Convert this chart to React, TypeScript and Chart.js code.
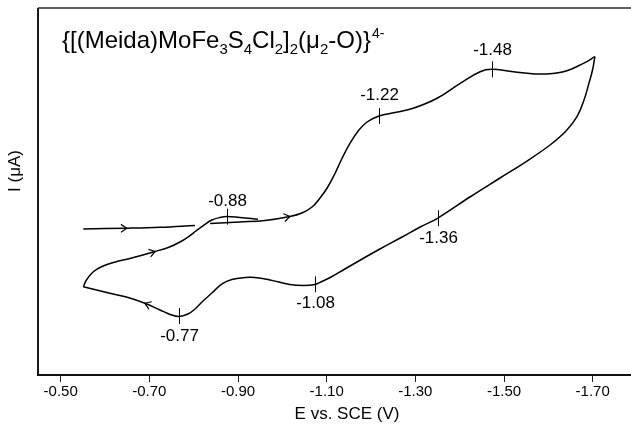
import React, { useEffect, useRef } from "react";
import { Chart, registerables } from "chart.js";

Chart.register(...registerables);

// ---- axis ----
const tickValues = [-0.5, -0.7, -0.9, -1.1, -1.3, -1.5, -1.7];
const xMin = -1.7864;
const xMax = -0.4488;
const yMin = 0;
const yMax = 100;

// ---- initial sweep (start at -0.55 V) ----
const startE = [-0.551, -0.649, -0.724, -0.803];
const startI = [39.8, 40.0, 40.25, 40.74];

// ---- forward (cathodic) scan to -1.70 V ----
const forwardE = [
  -0.837, -0.904, -0.961, -1.017, -1.044, -1.067, -1.085, -1.101, -1.117, -1.135,
  -1.153, -1.171, -1.191, -1.218, -1.254, -1.295, -1.349, -1.401, -1.446, -1.472,
  -1.521, -1.581, -1.634, -1.679, -1.705,
];
const forwardI = [
  41.28, 41.69, 42.1, 43.19, 44.14, 45.78, 48.23, 50.95, 54.5, 59.13,
  63.22, 66.49, 68.94, 70.57, 71.53, 72.67, 75.4, 79.48, 82.64, 83.3,
  82.64, 82.0, 82.64, 84.9, 86.73,
];

// ---- return (anodic) scan back to -0.55 V ----
const returnE = [
  -1.705, -1.6996, -1.6917, -1.6804, -1.6646, -1.6398, -1.6037, -1.5518, -1.4909,
  -1.423, -1.35, -1.311, -1.27, -1.22, -1.18, -1.141, -1.108, -1.089, -1.074,
  -1.047, -1.017, -0.972, -0.938, -0.916, -0.886, -0.864, -0.841, -0.821, -0.803,
  -0.787, -0.767, -0.747, -0.724, -0.69, -0.652, -0.611, -0.551,
];
const returnI = [
  86.73, 83.11, 79.56, 74.93, 70.38, 66.49, 62.67, 58.31, 53.68,
  48.5, 42.7, 40.33, 37.6, 34.33, 31.61, 28.88, 26.57, 25.48, 24.66,
  24.39, 24.66, 25.89, 26.57, 26.57, 26.02, 24.8, 22.34, 20.16, 17.98,
  16.62, 15.94, 16.49, 17.71, 19.54, 21.12, 22.26, 24.06,
];

// ---- second forward rise ----
const riseE = [
  -0.551, -0.558, -0.573, -0.593, -0.623, -0.656, -0.713, -0.747, -0.769, -0.787,
  -0.805, -0.823, -0.841, -0.859, -0.875, -0.904, -0.945,
];
const riseI = [
  24.06, 25.89, 28.07, 29.56, 30.79, 31.74, 33.65, 34.96, 36.24, 37.6,
  39.24, 40.87, 42.23, 42.92, 43.19, 42.92, 42.43,
];

// ---- marked peaks ----
const peakE = [-0.874, -1.219, -1.472, -1.35, -1.074, -0.767];
const peakI = [43.13, 70.57, 83.3, 42.7, 24.71, 16.08];
const peakLabels = ["-0.88", "-1.22", "-1.48", "-1.36", "-1.08", "-0.77"];
const peakLabelAbove = [true, true, true, false, false, false];

// ---- direction arrows: [series index, point index] ----
const arrowSeries = [0, 1, 3, 2];
const arrowPoints = [1, 3, 6, 33];

const FONT = '"Liberation Sans", Arial, Helvetica, sans-serif';
const labelGap = [15, 21, 19, 20, 19, 20];

const zip = (xs: number[], ys: number[]) => xs.map((v, i) => ({ x: v, y: ys[i] }));

export default function App() {
  const ref = useRef<HTMLCanvasElement | null>(null);

  useEffect(() => {
    if (!ref.current) return;
    const series = [
      zip(startE, startI),
      zip(forwardE, forwardI),
      zip(returnE, returnI),
      zip(riseE, riseI),
    ];

    const overlay = {
      id: "overlay",
      afterDraw(chart: any) {
        const { ctx, chartArea, scales } = chart;
        const xs = scales.x;
        const ys = scales.y;
        ctx.save();
        // frame: left and top
        ctx.strokeStyle = "#1a1a1a";
        ctx.lineWidth = 2;
        ctx.beginPath();
        ctx.moveTo(chartArea.left, chartArea.top);
        ctx.lineTo(chartArea.left, chartArea.bottom);
        ctx.stroke();
        ctx.strokeStyle = "#2a2a2a";
        ctx.lineWidth = 1.5;
        ctx.beginPath();
        ctx.moveTo(chartArea.left, chartArea.top);
        ctx.lineTo(chartArea.right, chartArea.top);
        ctx.stroke();

        // peak ticks & labels
        ctx.strokeStyle = "#000";
        ctx.fillStyle = "#000";
        ctx.lineWidth = 1;
        ctx.font = `17px ${FONT}`;
        ctx.textAlign = "center";
        ctx.textBaseline = "middle";
        peakE.forEach((e, i) => {
          const px = Math.round(xs.getPixelForValue(e)) + 0.5;
          const py = ys.getPixelForValue(peakI[i]);
          ctx.beginPath();
          ctx.moveTo(px, py - 8);
          ctx.lineTo(px, py + 8);
          ctx.stroke();
          const ly = peakLabelAbove[i] ? py - labelGap[i] : py + labelGap[i];
          ctx.fillText(peakLabels[i], px, ly);
        });

        // arrows
        ctx.lineWidth = 1.2;
        arrowSeries.forEach((s, k) => {
          const pts = series[s];
          const i = arrowPoints[k];
          const a = pts[Math.max(0, i - 1)];
          const b = pts[Math.min(pts.length - 1, i + 1)];
          const tx = xs.getPixelForValue(pts[i].x);
          const ty = ys.getPixelForValue(pts[i].y);
          const ang = Math.atan2(
            ys.getPixelForValue(b.y) - ys.getPixelForValue(a.y),
            xs.getPixelForValue(b.x) - xs.getPixelForValue(a.x)
          );
          const L = 7;
          const sp = 0.6;
          ctx.beginPath();
          ctx.moveTo(tx - L * Math.cos(ang - sp), ty - L * Math.sin(ang - sp));
          ctx.lineTo(tx, ty);
          ctx.lineTo(tx - L * Math.cos(ang + sp), ty - L * Math.sin(ang + sp));
          ctx.stroke();
        });

        // formula
        ctx.textAlign = "left";
        ctx.textBaseline = "alphabetic";
        const base = 48;
        let cx = 62;
        const parts: [string, string][] = [
          ["n", "{[(Meida)MoFe"], ["b", "3"], ["n", "S"], ["b", "4"], ["n", "Cl"], ["b", "2"],
          ["n", "]"], ["b", "2"], ["n", "(\u03bc"], ["b", "2"], ["n", "-O)}"], ["p", "4-"],
        ];
        parts.forEach(([kind, txt]) => {
          if (kind === "n") {
            ctx.font = `24px ${FONT}`;
            ctx.fillText(txt, cx, base);
          } else if (kind === "b") {
            ctx.font = `15px ${FONT}`;
            ctx.fillText(txt, cx, base + 6);
          } else {
            ctx.font = `14px ${FONT}`;
            ctx.fillText(txt, cx + 1, base - 10);
          }
          cx += ctx.measureText(txt).width;
        });

        // axis titles
        ctx.font = `17px ${FONT}`;
        ctx.textAlign = "center";
        ctx.textBaseline = "middle";
        ctx.fillText("E vs. SCE (V)", 347, 414);
        ctx.save();
        ctx.translate(15, 171);
        ctx.rotate(-Math.PI / 2);
        ctx.fillText("I (\u03bcA)", 0, 0);
        ctx.restore();
        ctx.restore();
      },
    };

    const chart = new Chart(ref.current, {
      type: "scatter",
      data: {
        datasets: series.map((d) => ({
          data: d,
          showLine: true,
          borderColor: "#000",
          borderWidth: 1.5,
          pointRadius: 0,
          tension: 0.4,
          fill: false,
        })),
      },
      options: {
        responsive: false,
        animation: false,
        devicePixelRatio: 1,
        layout: { padding: { left: 38, top: 8, right: 0, bottom: 0 } },
        plugins: { legend: { display: false }, tooltip: { enabled: false }, title: { display: false } },
        scales: {
          x: {
            type: "linear",
            reverse: true,
            min: xMin,
            max: xMax,
            afterBuildTicks: (scale: any) => {
              scale.ticks = tickValues.map((v) => ({ value: v }));
            },
            afterFit: (scale: any) => {
              scale.height = 54;
            },
            grid: {
              display: true,
              drawOnChartArea: false,
              drawTicks: true,
              tickLength: 7,
              color: "#222",
              lineWidth: 1,
            },
            border: { display: true, color: "#111", width: 2 },
            ticks: {
              color: "#000",
              padding: 1,
              autoSkip: false,
              maxRotation: 0,
              font: { family: FONT, size: 15 },
              callback: (v: any) => Number(v).toFixed(2),
            },
          },
          y: { type: "linear", display: false, min: yMin, max: yMax },
        },
      },
      plugins: [overlay],
    });
    return () => chart.destroy();
  }, []);

  return (
    <div style={{ position: "absolute", left: 0, top: 0, width: 631, height: 429, background: "#fff" }}>
      <canvas ref={ref} width={631} height={429} />
    </div>
  );
}
